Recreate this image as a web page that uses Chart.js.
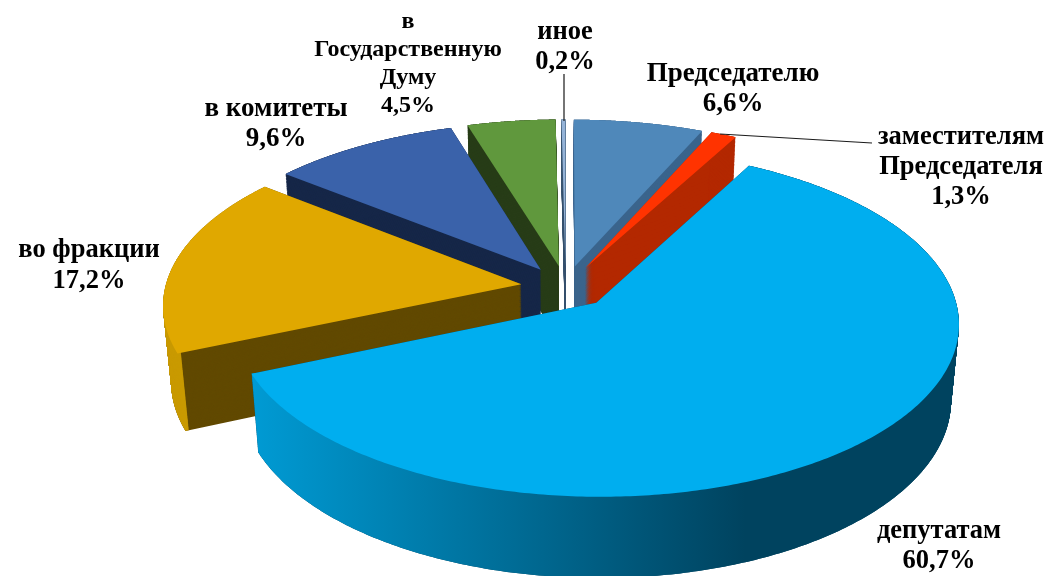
<!DOCTYPE html>
<html>
<head>
<meta charset="utf-8">
<style>
  body { margin: 0; background: #fff; }
  #chartBox { width: 1048px; height: 576px; overflow: hidden; }
</style>
<script src="https://cdn.jsdelivr.net/npm/chart.js@4"></script>
</head>
<body>
<div id="chartBox"><canvas id="pie" width="1048" height="576"></canvas></div>
<script>
// Chart data, clockwise from the top
const categories = [
  ["Председателю"],
  ["заместителям", "Председателя"],
  ["депутатам"],
  ["во фракции"],
  ["в комитеты"],
  ["в", "Государственную", "Думу"],
  ["иное"],
];
const shares = [6.6, 1.3, 60.7, 17.2, 9.6, 4.5, 0.2];

// Slice colours: top face, cut face
const topColors = ["#4f88ba", "#ff3300", "#00aeef", "#e0a800", "#3a62aa", "#60983d", "#95b3d7"];
const cutColors = ["#3a648c", "#b32800", "#00405c", "#614900", "#162748", "#273c17", "#3a5570"];

// Where each label goes: centre x, first line y, line height, font size
const labelX = [733, 961, 939, 89, 276, 408, 565];
const labelY = [74, 137, 531, 250, 109, 22, 32];
const labelStep = [30, 30, 30, 31, 30, 28, 30];
const labelSize = [27, 26.5, 26.5, 26.5, 27, 24, 26.5];

// Back to front
const drawOrder = [5, 6, 0, 1, 4, 3, 2];

// Slices pulled out from the centre, as a part of the radius
const explode = 0.126;

// Camera: where the pie centre lands and how a unit radius is projected
const centerX = 565.7, centerY = 287;
const spanX = 356, spanY = 168, tilt = 0.114;
const pieHeight = 77, sink = 0.02;

function project(x, y, t) {
  const w = 1 - tilt * y + sink * t;
  return { x: centerX + (spanX * x) / w, y: centerY + (spanY * y + pieHeight * t) / w };
}

// Stands in for the canvas context while an arc element draws itself,
// so the path the library builds comes out in perspective
function projectedContext(ctx, arc, t, color) {
  const radius = arc.fullRadius;
  const mid = (arc.startAngle + arc.endAngle) / 2;
  const dx = explode * Math.cos(mid), dy = explode * Math.sin(mid);
  const put = (px, py, move) => {
    const p = project((px - arc.x) / radius + dx, (py - arc.y) / radius + dy, t);
    if (move) ctx.moveTo(p.x, p.y);
    else ctx.lineTo(p.x, p.y);
  };
  let started = false;
  return {
    save() { ctx.save(); },
    restore() { ctx.restore(); },
    translate() {},
    beginPath() { ctx.beginPath(); started = false; },
    closePath() { ctx.closePath(); },
    moveTo(px, py) { put(px, py, true); started = true; },
    lineTo(px, py) { put(px, py, !started); started = true; },
    arc(px, py, r, a0, a1, ccw) {
      const steps = r > 1 ? 160 : 1;
      const sweep = ccw ? -Math.abs(a0 - a1) : Math.abs(a1 - a0);
      for (let i = 0; i <= steps; i++) {
        const a = a0 + (sweep * i) / steps;
        put(px + r * Math.cos(a), py + r * Math.sin(a), !started);
        started = true;
      }
    },
    fill() { ctx.fillStyle = color; ctx.fill(); },
    stroke() {},
    clip() {},
  };
}

function extrude(ctx, arc, color) {
  for (let t = 1; t > 0; t -= 1 / 90) arc.draw(projectedContext(ctx, arc, t, color));
}

const pie3d = {
  id: "pie3d",
  beforeDatasetsDraw(chart) {
    const ctx = chart.ctx;
    const arcs = chart.getDatasetMeta(0).data;

    const blueRim = ctx.createLinearGradient(255, 0, 745, 0);
    blueRim.addColorStop(0, "#009ad3");
    blueRim.addColorStop(1, "#00435f");
    const rimColors = [...cutColors];
    rimColors[2] = blueRim;
    rimColors[3] = "#c99a00";

    for (const i of drawOrder) {
      const arc = arcs[i];
      arc.fullRadius = arc.outerRadius;
      extrude(ctx, arc, cutColors[i]);
      // outer wall as a thin ring on top of the cut faces
      arc.innerRadius = arc.outerRadius * 0.99;
      extrude(ctx, arc, rimColors[i]);
      arc.innerRadius = 0;
      arc.draw(projectedContext(ctx, arc, 0, topColors[i]));
    }
    return false;
  },
  afterDraw(chart) {
    const ctx = chart.ctx;
    ctx.save();

    // leader lines
    ctx.strokeStyle = "#1a1a1a";
    ctx.lineWidth = 1.2;
    ctx.beginPath();
    ctx.moveTo(564, 74);
    ctx.lineTo(564, 121);
    ctx.moveTo(720, 134);
    ctx.lineTo(872, 143);
    ctx.stroke();

    ctx.fillStyle = "#000";
    ctx.textAlign = "center";
    ctx.textBaseline = "middle";
    categories.forEach((lines, i) => {
      ctx.font = "bold " + labelSize[i] + "px 'Liberation Serif'";
      const text = [...lines, shares[i].toFixed(1).replace(".", ",") + "%"];
      text.forEach((line, n) => ctx.fillText(line, labelX[i], labelY[i] + n * labelStep[i]));
    });
    ctx.restore();
  },
};

new Chart(document.getElementById("pie"), {
  type: "pie",
  data: {
    labels: categories.map((c) => c.join(" ")),
    datasets: [{ data: shares, backgroundColor: topColors, borderWidth: 0 }],
  },
  options: {
    responsive: false,
    animation: false,
    plugins: { legend: { display: false }, tooltip: { enabled: false } },
  },
  plugins: [pie3d],
});
</script>
</body>
</html>
